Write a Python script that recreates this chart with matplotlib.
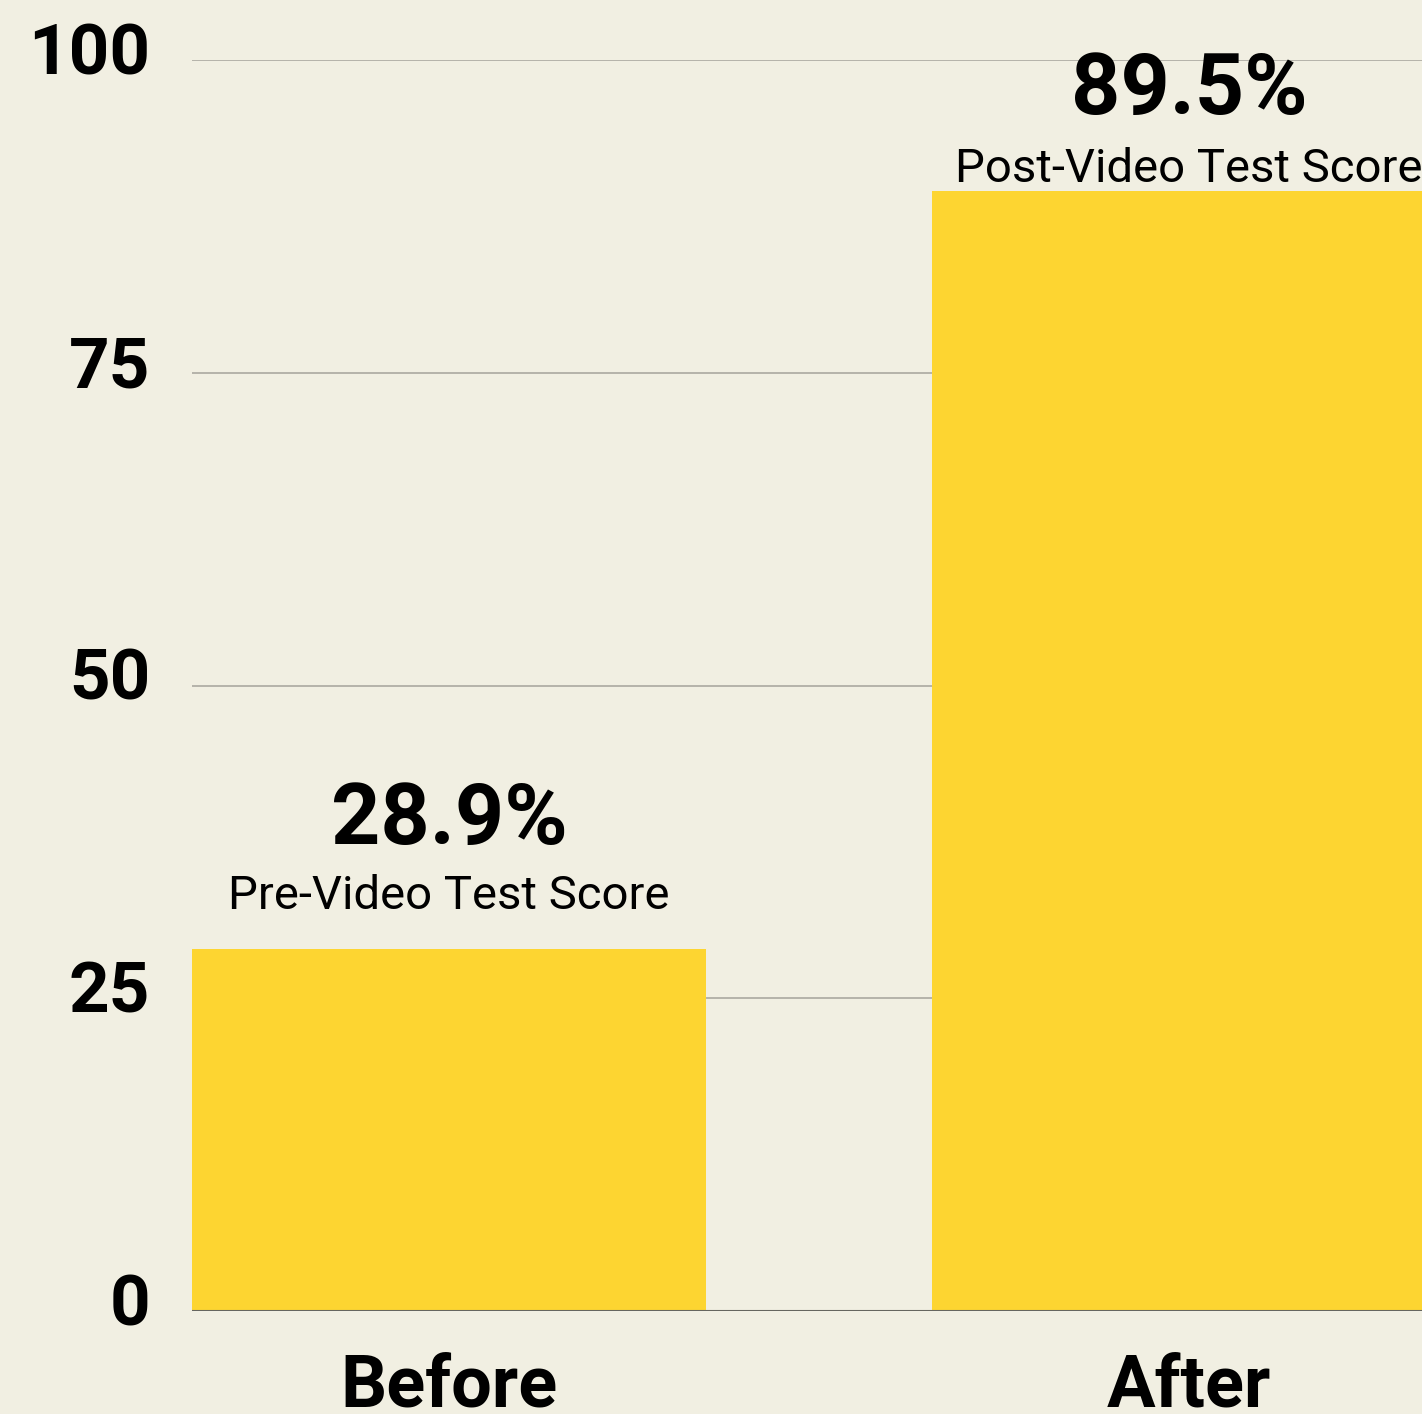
import matplotlib.pyplot as plt
import matplotlib.transforms as mtransforms

# Data
categories = ["Before", "After"]
scores = [28.9, 89.5]
value_labels = ["28.9%", "89.5%"]
sub_labels = ["Pre-Video Test Score", "Post-Video Test Score"]
yticks = [0, 25, 50, 75, 100]

# Colours
BG = "#F1EFE2"
BAR = "#FDD531"
GRID = "#B5B3AA"
BASE = "#66665F"

plt.rcParams['font.family'] = ['Roboto', 'DejaVu Sans']

fig = plt.figure(figsize=(14.22, 14.14), dpi=100, facecolor=BG)
# axes runs past the right edge of the figure, like the original crop
ax = fig.add_axes([192 / 1422, 103 / 1414, 1256 / 1422, 1251 / 1414])
ax.set_facecolor(BG)

x = list(range(len(categories)))
w = 0.695
ax.bar(x, scores, width=w, color=BAR, zorder=2)

ax.set_xlim(-w / 2, 1.35)
ax.set_ylim(0, 100)
ax.set_yticks(yticks)
ax.set_yticklabels([str(t) for t in yticks], fontsize=51, fontweight='bold')
ax.set_xticks(x)
ax.set_xticklabels(categories, fontsize=52, fontweight='bold')
ax.tick_params(axis='y', length=0, pad=30)
ax.tick_params(axis='x', length=0, pad=30)

# nudge y tick labels up a little
shift = mtransforms.ScaledTranslation(0, 12 / 100, fig.dpi_scale_trans)
for lab in ax.get_yticklabels():
    lab.set_transform(lab.get_transform() + shift)

ax.yaxis.grid(True, color=GRID, linewidth=1.4)
ax.set_axisbelow(True)
for s in ax.spines.values():
    s.set_visible(False)
ax.axhline(0, color=BASE, linewidth=1.5, zorder=3)

# value labels above bars (offsets in points)
big_off = [75.6, 56]
sub_off = [28.8, 6.5]
for i in range(len(categories)):
    ax.annotate(value_labels[i], xy=(x[i], scores[i]), xytext=(0, big_off[i]),
                textcoords='offset points', ha='center', va='baseline',
                fontsize=62, fontweight='bold', annotation_clip=False)
    ax.annotate(sub_labels[i], xy=(x[i], scores[i]), xytext=(0, sub_off[i]),
                textcoords='offset points', ha='center', va='baseline',
                fontsize=34, annotation_clip=False)

fig.savefig("out.png", dpi=100, facecolor=BG)
